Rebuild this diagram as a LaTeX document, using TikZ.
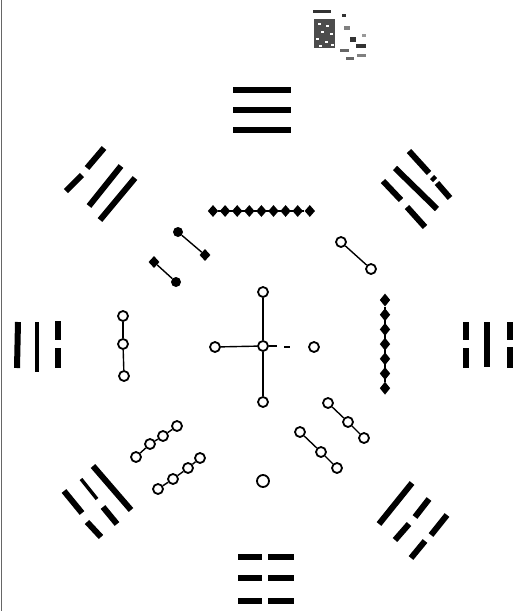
\documentclass[tikz,border=0pt]{standalone}
\usetikzlibrary{shapes.geometric}
\begin{document}
\begin{tikzpicture}[x=1pt,y=-1pt,
  yao/.style={line width=6pt},
  thinyao/.style={line width=3.5pt},
  wdot/.style={circle,draw,line width=1.8pt,fill=white,minimum size=10pt,inner sep=0pt},
  bdot/.style={circle,fill,minimum size=10pt,inner sep=0pt},
  bdia/.style={diamond,fill,minimum width=10.5pt,minimum height=12pt,inner sep=0pt},
  link/.style={line width=1.4pt},
  speck/.style={fill=black!80}]
\useasboundingbox (0,0) rectangle (516,611);
\fill[white] (0,0) rectangle (516,611);
% scan edge
\draw[line width=1pt,black!60] (1,0) -- (1,611);
% seal
\fill[speck] (313,10) rectangle (331,13);
\fill[black!70] (314,19) rectangle (335,48);
\foreach \x/\y in {318/23,326/25,321/31,330/33,316/38,325/41,331/44,319/45}{
  \fill[white] (\x,\y) rectangle ++(3,2);}
\fill[speck] (342,14) rectangle (346,17);
\fill[black!50] (344,26) rectangle (350,30);
\fill[speck] (350,37) rectangle (356,42);
\fill[speck] (356,44) rectangle (366,48);
\fill[black!60] (340,49) rectangle (349,52);
\fill[black!50] (357,54) rectangle (366,57);
\fill[black!60] (346,57) rectangle (354,60);
\fill[black!40] (362,34) rectangle (366,37);

% ---- trigrams ----
% top: three solid
\draw[yao] (233,90) -- (291,90);
\draw[yao] (233,110) -- (291,110);
\draw[yao] (233,130) -- (291,130);
% bottom: three broken
\foreach \y in {557,578,601}{
  \draw[yao] (238,\y) -- (262,\y);
  \draw[yao] (268,\y) -- (294,\y);
}
% left
\draw[yao] (18,322) -- (17,368);
\draw[thinyao] (37,322) -- (37,372);
\draw[yao] (58,321) -- (58,340);
\draw[yao] (58,348) -- (58,368);
% right
\draw[yao] (466,322) -- (466,340);
\draw[yao] (466,348) -- (466,368);
\draw[yao] (487,322) -- (487,367);
\draw[yao] (510,322) -- (510,340);
\draw[yao] (510,347) -- (510,368);
% upper left
\draw[yao] (66,191) -- (82,175);
\draw[yao] (87,168) -- (104,148);
\draw[yao] (89,206) -- (121,166);
\draw[yao] (100,220) -- (135,178);
% upper right
\draw[yao] (409,151) -- (429,173);
\draw[yao] (432,177) -- (435,180);
\draw[yao] (437,183) -- (450,198);
\draw[yao] (395,168) -- (437,209);
\draw[yao] (383,181) -- (401,200);
\draw[yao] (407,207) -- (425,227);
% lower left
\draw[yao] (64,491) -- (82,513);
\draw[yao] (87,522) -- (101,537);
\draw[thinyao] (81,479) -- (97,499);
\draw[yao] (103,507) -- (117,524);
\draw[yao] (93,466) -- (131,510);
% lower right
\draw[yao] (412,483) -- (379,524);
\draw[yao] (429,499) -- (415,517);
\draw[yao] (409,524) -- (395,540);
\draw[yao] (447,515) -- (431,535);
\draw[yao] (425,541) -- (411,558);

% ---- dots ----
% top: nine black
\foreach \i in {0,...,8}{\node[bdia] (t\i) at ({213+12.1*\i},211) {};}
\draw[link] (t0) -- (t8);
% upper left: four black
\node[bdot] (ul1) at (178,232) {};
\node[bdia,minimum width=11pt,minimum height=12pt] (ul2) at (205,255) {};
\node[bdia,minimum width=11pt,minimum height=12pt] (ul3) at (154,262) {};
\node[bdot] (ul4) at (176,282) {};
\draw[link] (ul1) -- (ul2);
\draw[link] (ul3) -- (ul4);
% upper right: two white
\node[wdot] (ur1) at (341,242) {};
\node[wdot] (ur2) at (371,269) {};
\draw[link] (ur1) -- (ur2);
% right: seven black
\foreach \i in {0,...,6}{\node[bdia,minimum height=13pt] (r\i) at (385,{300+14.7*\i}) {};}
\draw[link] (r0) -- (r6);
% left: three white
\node[wdot] (l1) at (123,316) {};
\node[wdot] (l2) at (123,344) {};
\node[wdot] (l3) at (124,376) {};
\draw[link] (l1) -- (l2);
\draw[link] (l2) -- (l3);
% centre: five white
\node[wdot] (c) at (263,346) {};
\node[wdot] (cn) at (263,292) {};
\node[wdot] (cs) at (263,402) {};
\node[wdot] (cw) at (215,347) {};
\node[wdot] (ce) at (314,347) {};
\coordinate (ce1) at (277,346);
\coordinate (ce2) at (284,347);
\coordinate (ce3) at (290,347);
\draw[link] (c) -- (cn);
\draw[link] (c) -- (cs);
\draw[link] (c) -- (cw);
\draw[link] (c) -- (ce1);
\draw[link] (ce2) -- (ce3);
% bottom: one white
\node[wdot,minimum size=12pt] (b) at (263,481) {};
% lower left: eight white
\node[wdot] (a1) at (136,457) {};
\node[wdot] (a2) at (150,444) {};
\node[wdot] (a3) at (163,436) {};
\node[wdot] (a4) at (177,426) {};
\draw[link] (a1) -- (a2) -- (a3) -- (a4);
\node[wdot] (b1) at (158,489) {};
\node[wdot] (b2) at (173,479) {};
\node[wdot] (b3) at (188,468) {};
\node[wdot] (b4) at (200,458) {};
\draw[link] (b1) -- (b2) -- (b3) -- (b4);
% lower right: six white
\node[wdot] (d1) at (328,403) {};
\node[wdot] (d2) at (348,422) {};
\node[wdot] (d3) at (364,438) {};
\draw[link] (d1) -- (d2) -- (d3);
\node[wdot] (e1) at (300,432) {};
\node[wdot] (e2) at (321,452) {};
\node[wdot] (e3) at (337,468) {};
\draw[link] (e1) -- (e2) -- (e3);
\end{tikzpicture}
\end{document}
